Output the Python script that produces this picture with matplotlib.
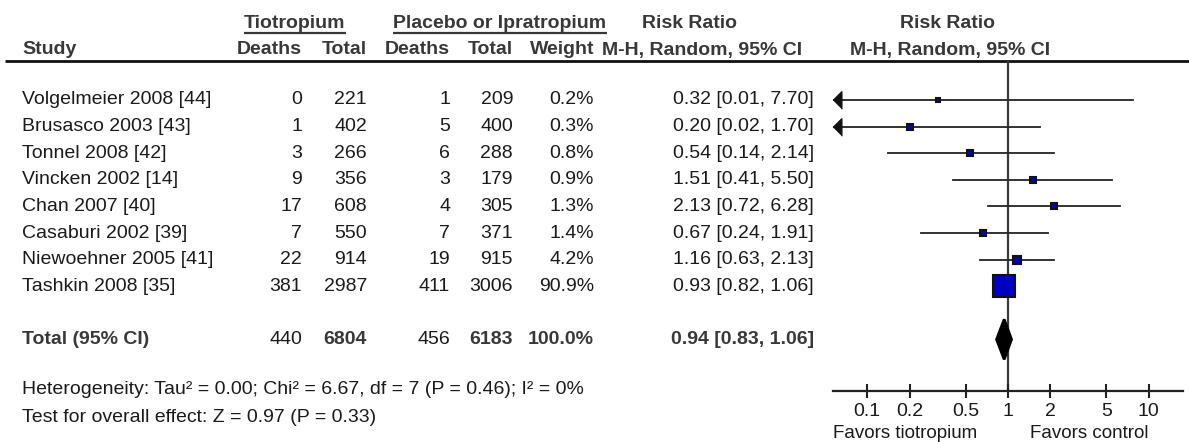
import numpy as np
import matplotlib.pyplot as plt
from matplotlib.transforms import ScaledTranslation

plt.rcParams['font.family'] = ['Liberation Sans', 'DejaVu Sans']

studies = ["Volgelmeier 2008 [44]", "Brusasco 2003 [43]", "Tonnel 2008 [42]",
           "Vincken 2002 [14]", "Chan 2007 [40]", "Casaburi 2002 [39]",
           "Niewoehner 2005 [41]", "Tashkin 2008 [35]"]
tio_deaths = [0, 1, 3, 9, 17, 7, 22, 381]
tio_total = [221, 402, 266, 356, 608, 550, 914, 2987]
ctl_deaths = [1, 5, 6, 3, 4, 7, 19, 411]
ctl_total = [209, 400, 288, 179, 305, 371, 915, 3006]
weights = [0.2, 0.3, 0.8, 0.9, 1.3, 1.4, 4.2, 90.9]
rr = [0.32, 0.20, 0.54, 1.51, 2.13, 0.67, 1.16, 0.93]
rr_lo = [0.01, 0.02, 0.14, 0.41, 0.72, 0.24, 0.63, 0.82]
rr_hi = [7.70, 1.70, 2.14, 5.50, 6.28, 1.91, 2.13, 1.06]
total_label = "Total (95% CI)"
total_counts = [440, 6804, 456, 6183]
total_weight = 100.0
total_rr = [0.94, 0.83, 1.06]
ticks = [0.1, 0.2, 0.5, 1, 2, 5, 10]
tick_labels = ["0.1", "0.2", "0.5", "1", "2", "5", "10"]
heterogeneity = "Heterogeneity: Tau\u00b2 = 0.00; Chi\u00b2 = 6.67, df = 7 (P = 0.46); I\u00b2 = 0%"
overall = "Test for overall effect: Z = 0.97 (P = 0.33)"

W, H = 1189, 442
FS = 14
BODY = '#1a1a1a'
HEAD = '#383838'

fig = plt.figure(figsize=(W / 100, H / 100), dpi=100)
tax = fig.add_axes([0, 0, 1, 1])
tax.set_xlim(0, W)
tax.set_ylim(H, 0)
tax.axis('off')


def row_y(r):
    return 100 + 26.6 * r


# column right edges in pixels
cols = [302, 367, 450, 513, 594, 814]

# header
hdr1 = 24
hdr2 = 50
t1 = tax.text(295, hdr1, "Tiotropium", ha='center', va='center', fontsize=FS, weight='bold', color=HEAD)
t2 = tax.text(500, hdr1, "Placebo or Ipratropium", ha='center', va='center', fontsize=FS, weight='bold', color=HEAD)
tax.text(689, hdr1, "Risk Ratio", ha='center', va='center', fontsize=FS, weight='bold', color=HEAD)
tax.text(947, hdr1, "Risk Ratio", ha='center', va='center', fontsize=FS, weight='bold', color=HEAD)
tax.text(22, hdr2, "Study", ha='left', va='center', fontsize=FS, weight='bold', color=HEAD)
for x, lab in zip(cols[:5], ["Deaths", "Total", "Deaths", "Total", "Weight"]):
    tax.text(x, hdr2, lab, ha='right', va='center', fontsize=FS, weight='bold', color=HEAD)
tax.text(702, hdr2, "M-H, Random, 95% CI", ha='center', va='center', fontsize=FS, weight='bold', color=HEAD)
tax.text(950, hdr2, "M-H, Random, 95% CI", ha='center', va='center', fontsize=FS, weight='bold', color=HEAD)
tax.plot([5, W], [61, 61], color='#111111', lw=2, solid_capstyle='butt')

# underline the group headers
fig.canvas.draw()
inv = tax.transData.inverted()
for t in (t1, t2):
    bb = t.get_window_extent()
    (x0, _), (x1, _) = inv.transform([(bb.x0, bb.y0), (bb.x1, bb.y0)])
    tax.plot([x0, x1], [33, 33], color=HEAD, lw=1.6, solid_capstyle='butt')

# study rows
for i, name in enumerate(studies):
    y = row_y(i)
    tax.text(22, y, name, ha='left', va='center', fontsize=FS, color=BODY)
    vals = [str(tio_deaths[i]), str(tio_total[i]), str(ctl_deaths[i]), str(ctl_total[i]),
            f"{weights[i]:.1f}%", f"{rr[i]:.2f} [{rr_lo[i]:.2f}, {rr_hi[i]:.2f}]"]
    for x, v in zip(cols, vals):
        tax.text(x, y, v, ha='right', va='center', fontsize=FS, color=BODY)

# total row
rt = len(studies) + 1
yt = row_y(rt)
tax.text(22, yt, total_label, ha='left', va='center', fontsize=FS, weight='bold', color=HEAD)
tot_vals = [str(total_counts[0]), str(total_counts[1]), str(total_counts[2]), str(total_counts[3]),
            f"{total_weight:.1f}%", f"{total_rr[0]:.2f} [{total_rr[1]:.2f}, {total_rr[2]:.2f}]"]
tot_bold = [False, True, False, True, True, True]
for x, v, b in zip(cols, tot_vals, tot_bold):
    tax.text(x, yt, v, ha='right', va='center', fontsize=FS,
             weight='bold' if b else 'normal', color=HEAD if b else BODY)

tax.text(22, 390, heterogeneity, ha='left', va='center', fontsize=FS, color=BODY)
tax.text(22, 417, overall, ha='left', va='center', fontsize=FS, color=BODY)

# forest plot axes
left_px, right_px, top_px, bot_px = 833, 1183, 61, 391
ax = fig.add_axes([left_px / W, 1 - bot_px / H, (right_px - left_px) / W, (bot_px - top_px) / H])
ax.patch.set_alpha(0)
ax.set_xscale('log')
xmin, xmax = 0.0572, 17.5
ax.set_xlim(xmin, xmax)
ax.set_ylim(bot_px, top_px)
for s in ('top', 'left', 'right'):
    ax.spines[s].set_visible(False)
ax.spines['bottom'].set_linewidth(1.6)
ax.spines['bottom'].set_color('#222222')
ax.set_yticks([])
ax.set_xticks(ticks)
ax.set_xticklabels(tick_labels)
ax.minorticks_off()
ax.tick_params(axis='x', direction='inout', length=10, width=1.5, color='#222222',
               labelsize=FS, labelcolor=BODY, pad=4)

ax.axvline(1, color='#3a3a3a', lw=1.6, zorder=1)

arrow_off = ScaledTranslation(4.3 / 100, 0, fig.dpi_scale_trans)
tri = [(-0.5, 0), (0.5, 1), (0.5, -1)]
for i in range(len(studies)):
    y = row_y(i)
    lo = max(rr_lo[i], xmin)
    ax.plot([lo, rr_hi[i]], [y, y], color='#222222', lw=1.3, zorder=2)
    if rr_lo[i] < xmin:
        ax.plot([xmin], [y], marker=tri, ms=12.5, color='#111111', mec='#111111',
                transform=ax.transData + arrow_off, clip_on=False, zorder=3)
    side = 4 + 1.96 * np.sqrt(weights[i])
    ax.plot([rr[i]], [y], marker='s', ms=side * 0.72, mfc='#0000c0', mec='#111111',
            mew=1.5, zorder=4)

# pooled diamond
est, lo, hi = total_rr
h = 20
ax.fill([lo, est, hi, est], [yt, yt - h, yt, yt + h], color='black', lw=2,
        edgecolor='black', zorder=4)

tax.text(905, 433, "Favors tiotropium", ha='center', va='center', fontsize=13.5, color=BODY)
tax.text(1089, 433, "Favors control", ha='center', va='center', fontsize=13.5, color=BODY)

fig.savefig('out.png', dpi=100)
